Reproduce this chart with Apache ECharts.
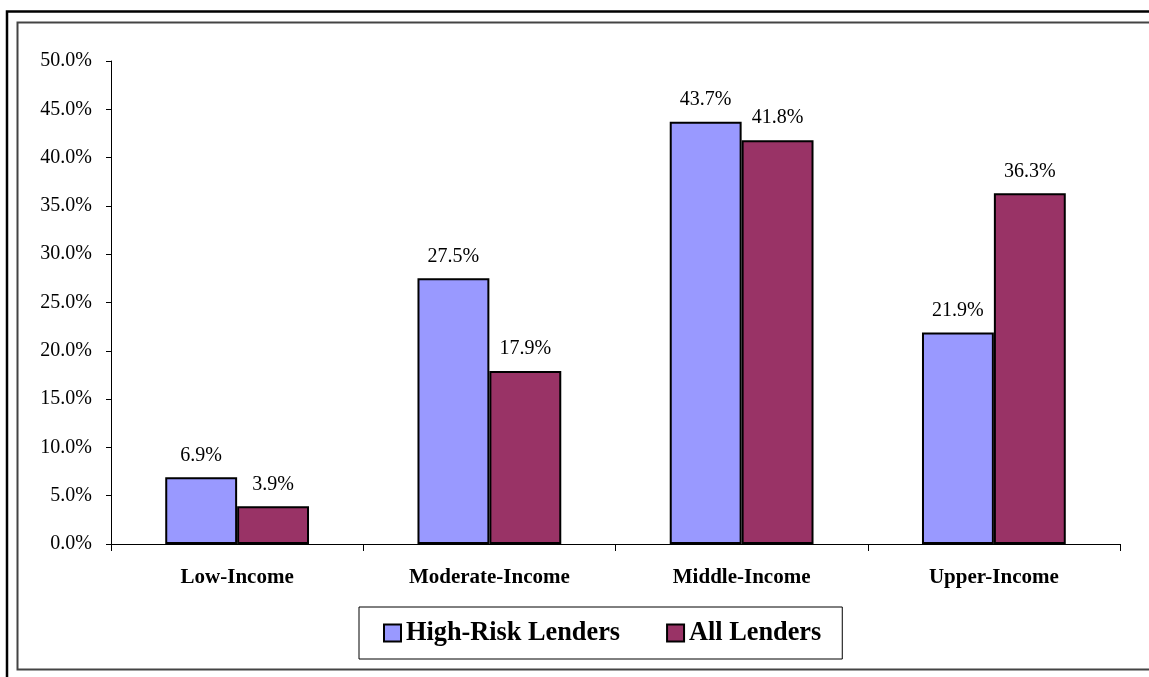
<!DOCTYPE html>
<html>
<head>
<meta charset="utf-8">
<script src="https://cdn.jsdelivr.net/npm/echarts@6/dist/echarts.min.js"></script>
<style>
html,body{margin:0;padding:0;background:#fff;}
#chart{width:1149px;height:677px;}
</style>
</head>
<body>
<div id="chart"></div>
<script>
const categories = ['Low-Income', 'Moderate-Income', 'Middle-Income', 'Upper-Income'];
const highRiskLenders = [6.9, 27.5, 43.7, 21.9];
const allLenders = [3.9, 17.9, 41.8, 36.3];
const seriesNames = ['High-Risk Lenders', 'All Lenders'];

const serif = '"Liberation Serif", "Times New Roman", serif';
const chart = echarts.init(document.getElementById('chart'));

const labelCfg = {
  show: true,
  position: 'top',
  distance: 12,
  color: '#000',
  fontFamily: serif,
  fontSize: 20,
  formatter: p => p.value.toFixed(1) + '%'
};

chart.setOption({
  animation: false,
  backgroundColor: '#fff',
  graphic: [
    { type: 'rect', shape: { x: 7, y: 11.5, width: 1160, height: 700 }, style: { fill: 'none', stroke: '#000', lineWidth: 2.5 }, silent: true },
    { type: 'rect', shape: { x: 17.5, y: 22.5, width: 1150, height: 647 }, style: { fill: 'none', stroke: '#444', lineWidth: 2 }, silent: true }
  ],
  grid: { left: 111, right: 29, top: 61, bottom: 133 },
  legend: {
    data: seriesNames,
    left: 359,
    top: 607,
    padding: [13, 21, 13, 24],
    itemGap: 46,
    borderColor: '#000',
    borderWidth: 1,
    icon: 'rect',
    itemWidth: 17,
    itemHeight: 17,
    textStyle: { fontFamily: serif, fontSize: 26.3, fontWeight: 'bold', color: '#000' }
  },
  xAxis: {
    type: 'category',
    data: categories,
    axisLine: { lineStyle: { color: '#000', width: 1 } },
    axisTick: { show: true, length: 7, lineStyle: { color: '#000' } },
    axisLabel: { fontFamily: serif, fontSize: 21, fontWeight: 'bold', color: '#000', margin: 23 }
  },
  yAxis: {
    type: 'value',
    min: 0,
    max: 50,
    interval: 5,
    axisLine: { show: true, lineStyle: { color: '#000', width: 1 } },
    axisTick: { show: true, length: 5, lineStyle: { color: '#000' } },
    splitLine: { show: false },
    axisLabel: { fontFamily: serif, fontSize: 20, color: '#000', margin: 19, formatter: v => v.toFixed(1) + '%' }
  },
  series: [
    {
      name: seriesNames[0],
      type: 'bar',
      data: highRiskLenders,
      barGap: '0%',
      barCategoryGap: '43%',
      itemStyle: { color: '#9999FF', borderColor: '#000', borderWidth: 2 },
      label: labelCfg
    },
    {
      name: seriesNames[1],
      type: 'bar',
      data: allLenders,
      itemStyle: { color: '#993366', borderColor: '#000', borderWidth: 2 },
      label: labelCfg
    }
  ]
});
</script>
</body>
</html>
